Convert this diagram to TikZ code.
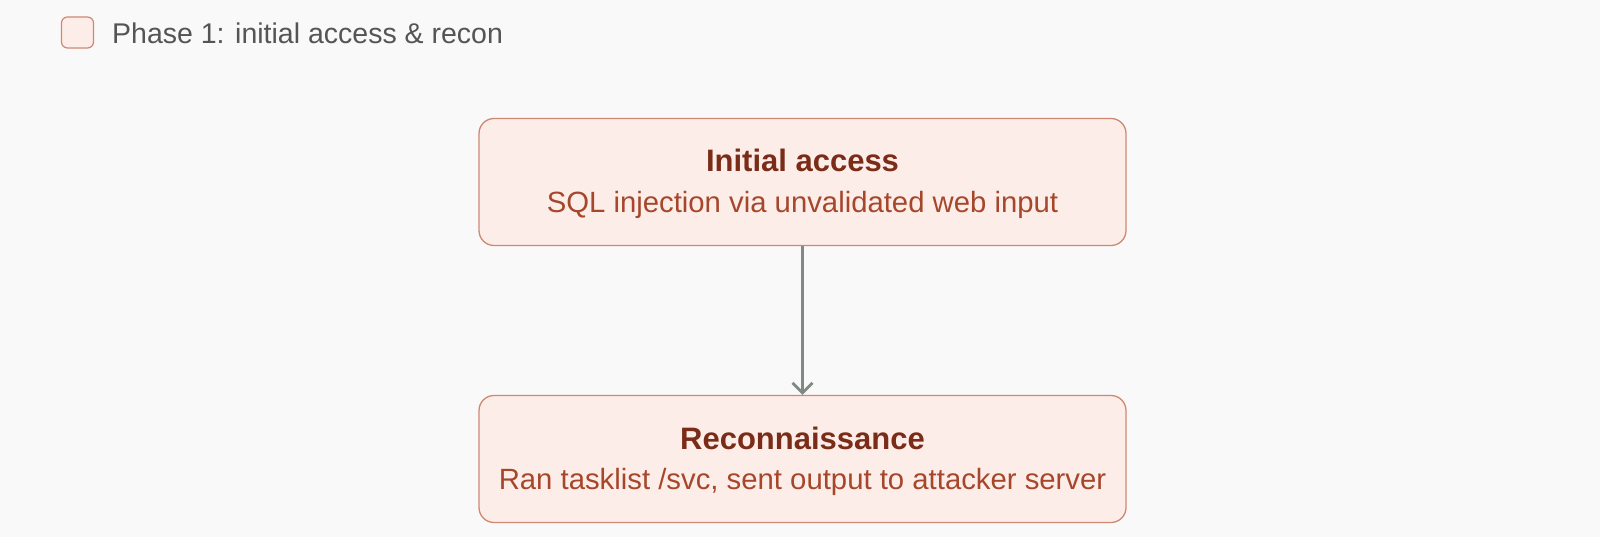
\documentclass[tikz,border=0pt]{standalone}
\usepackage{fontspec}
\setmainfont{Liberation Sans}
\usetikzlibrary{arrows.meta}
\definecolor{bg}{HTML}{F9F9F9}
\definecolor{boxfill}{HTML}{FDEDE8}
\definecolor{boxline}{HTML}{CF8872}
\definecolor{titlecol}{HTML}{7A2C18}
\definecolor{subcol}{HTML}{A6472C}
\definecolor{legcol}{HTML}{555555}
\definecolor{arrcol}{HTML}{808A82}
\begin{document}
\begin{tikzpicture}[x=1pt,y=-1pt,
  phasebox/.style={draw=boxline, fill=boxfill, line width=1.3pt, rounded corners=15pt,
    minimum width=647pt, minimum height=127pt, inner sep=0pt},
  titletext/.style={text=titlecol, font=\fontsize{31}{36}\selectfont\bfseries},
  subtext/.style={text=subcol, font=\fontsize{29.3}{34}\selectfont},
  legendbox/.style={draw=boxline, fill=boxfill, line width=1.2pt, rounded corners=6pt,
    minimum width=32pt, minimum height=31pt, inner sep=0pt},
  legendtext/.style={text=legcol, font=\fontsize{28.5}{34}\selectfont, anchor=west, inner sep=0pt},
  flow/.style={draw=arrcol, line width=3.2pt, -{Straight Barb[length=10pt,width=20pt,line width=2.8pt]}}
]
\path[fill=bg] (0,0) rectangle (1600,537);
% legend
\node[legendbox] (leg) at (77.5,32.5) {};
\node[legendtext] (legt) at (112,33) {Phase 1: initial access \& recon};
% boxes
\node[phasebox] (b1) at (802.5,182) {};
\node[phasebox] (b2) at (802.5,459) {};
\node[titletext] (t1) at (802.5,160) {Initial access};
\node[subtext] (s1) at (802.5,205) {SQL injection via unvalidated web input};
\node[titletext] (t2) at (802.5,438) {Reconnaissance};
\node[subtext] (s2) at (802.5,482) {Ran tasklist /svc, sent output to attacker server};
% connector
\draw[flow] (b1.south) -- (b2.north);
\end{tikzpicture}
\end{document}
